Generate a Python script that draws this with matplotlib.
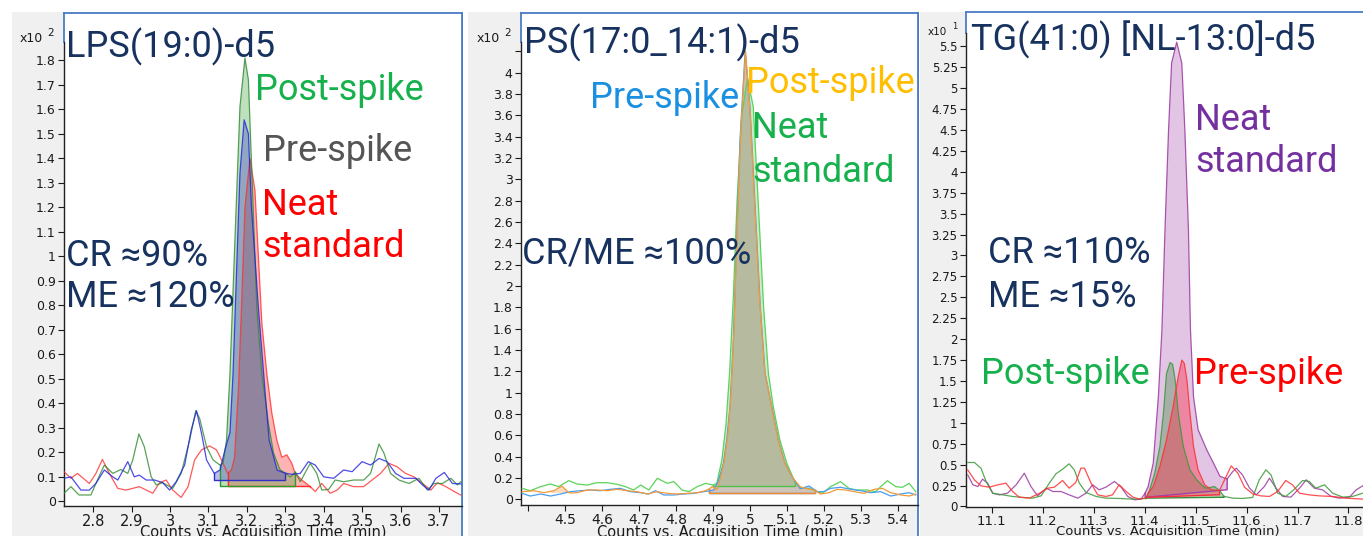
import numpy as np
import matplotlib.pyplot as plt
from matplotlib.patches import Rectangle, Polygon
from matplotlib.lines import Line2D

# ---- LPS(19:0)-d5 (values x10^2 counts) ----
lps_post_t = [2.724, 2.742, 2.763, 2.794, 2.811, 2.829, 2.851, 2.872, 2.89, 2.903, 2.919, 2.933, 2.951,
              2.964, 2.981, 3.007, 3.029, 3.051, 3.067, 3.077, 3.095, 3.112, 3.130, 3.138, 3.147, 3.156,
              3.169, 3.182, 3.195, 3.204, 3.213, 3.226, 3.239, 3.256, 3.269, 3.286, 3.313, 3.326, 3.339,
              3.365, 3.382, 3.395, 3.413, 3.43, 3.452, 3.478, 3.504, 3.522, 3.544, 3.557, 3.574, 3.596,
              3.622, 3.648, 3.67, 3.687, 3.709, 3.731, 3.748, 3.757]
lps_post_y = [0.033, 0.06, 0.026, 0.026, 0.087, 0.148, 0.114, 0.13, 0.114, 0.169, 0.275, 0.223, 0.10,
              0.067, 0.076, 0.053, 0.114, 0.25, 0.37, 0.339, 0.223, 0.169, 0.148, 0.156, 0.25, 0.52,
              1.07, 1.61, 1.81, 1.72, 1.34, 0.79, 0.52, 0.32, 0.20, 0.13, 0.10, 0.12, 0.08,
              0.155, 0.114, 0.046, 0.049, 0.087, 0.08, 0.087, 0.087, 0.114, 0.234, 0.196, 0.114, 0.087,
              0.073, 0.094, 0.046, 0.073, 0.073, 0.094, 0.067, 0.08]

lps_pre_t = [2.724, 2.742, 2.768, 2.79, 2.807, 2.829, 2.851, 2.864, 2.89, 2.907, 2.92, 2.938, 2.96,
             2.981, 2.999, 3.016, 3.038, 3.055, 3.069, 3.082, 3.095, 3.115, 3.13, 3.143, 3.156, 3.164,
             3.173, 3.182, 3.193, 3.204, 3.212, 3.23, 3.247, 3.258, 3.279, 3.300, 3.318, 3.339, 3.36,
             3.378, 3.40, 3.426, 3.452, 3.474, 3.50, 3.522, 3.544, 3.565, 3.587, 3.609, 3.64, 3.657,
             3.674, 3.692, 3.714, 3.735, 3.757]
lps_pre_y = [0.094, 0.10, 0.046, 0.046, 0.073, 0.128, 0.10, 0.087, 0.162, 0.10, 0.107, 0.087, 0.087,
             0.076, 0.046, 0.08, 0.148, 0.29, 0.37, 0.277, 0.169, 0.114, 0.128, 0.21, 0.28, 0.52,
             0.93, 1.34, 1.557, 1.50, 1.20, 0.79, 0.455, 0.25, 0.127, 0.115, 0.11, 0.114, 0.162,
             0.148, 0.10, 0.094, 0.128, 0.121, 0.162, 0.148, 0.175, 0.162, 0.114, 0.094, 0.094, 0.067,
             0.046, 0.094, 0.118, 0.073, 0.071]

lps_neat_t = [2.724, 2.742, 2.759, 2.79, 2.807, 2.824, 2.842, 2.864, 2.885, 2.903, 2.92, 2.938, 2.955,
              2.973, 2.99, 3.007, 3.029, 3.047, 3.064, 3.082, 3.103, 3.121, 3.134, 3.15, 3.16, 3.168,
              3.178, 3.186, 3.195, 3.208, 3.221, 3.23, 3.239, 3.252, 3.265, 3.278, 3.291, 3.304, 3.317,
              3.326, 3.343, 3.365, 3.378, 3.395, 3.417, 3.435, 3.452, 3.478, 3.504, 3.526, 3.548, 3.57,
              3.591, 3.613, 3.635, 3.657, 3.679, 3.696, 3.718, 3.74, 3.756]
lps_neat_y = [0.121, 0.094, 0.114, 0.073, 0.114, 0.171, 0.114, 0.053, 0.046, 0.053, 0.06, 0.046, 0.033,
              0.076, 0.087, 0.046, 0.016, 0.06, 0.169, 0.21, 0.226, 0.21, 0.169, 0.114, 0.13, 0.18,
              0.455, 0.79, 1.2, 1.40, 1.27, 1.0, 0.727, 0.52, 0.36, 0.25, 0.18, 0.19, 0.155,
              0.114, 0.087, 0.06, 0.04, 0.073, 0.033, 0.046, 0.073, 0.06, 0.06, 0.087, 0.114, 0.155,
              0.141, 0.114, 0.10, 0.073, 0.046, 0.076, 0.06, 0.04, 0.026]

# ---- PS(17:0_14:1)-d5 (x10^2) ----
ps_pre_t = [4.383, 4.405, 4.433, 4.46, 4.487, 4.514, 4.541, 4.568, 4.595, 4.622, 4.649, 4.676, 4.704,
            4.726, 4.744, 4.767, 4.794, 4.821, 4.848, 4.875, 4.89, 4.902, 4.915, 4.928, 4.937, 4.946,
            4.955, 4.964, 4.973, 4.987, 5.0, 5.014, 5.028, 5.041, 5.059, 5.077, 5.095, 5.114, 5.136,
            5.16, 5.175, 5.182, 5.2, 5.218, 5.245, 5.273, 5.3, 5.327, 5.354, 5.381, 5.408, 5.431, 5.449]
ps_pre_y = [0.056, 0.031, 0.05, 0.031, 0.05, 0.072, 0.081, 0.0875, 0.081, 0.094, 0.103, 0.072, 0.0625,
            0.05, 0.081, 0.041, 0.041, 0.05, 0.056, 0.072, 0.08, 0.0875, 0.18, 0.337, 0.556, 0.87,
            1.49, 2.43, 3.37, 4.2, 3.68, 2.74, 1.8, 1.18, 0.87, 0.556, 0.337, 0.21, 0.10,
            0.125, 0.09, 0.072, 0.072, 0.103, 0.113, 0.094, 0.081, 0.0625, 0.072, 0.031, 0.05, 0.0625, 0.041]

ps_post_t = [4.383, 4.415, 4.442, 4.46, 4.469, 4.491, 4.509, 4.52, 4.532, 4.559, 4.586, 4.613, 4.64,
             4.667, 4.694, 4.722, 4.749, 4.776, 4.803, 4.83, 4.857, 4.88, 4.89, 4.898, 4.911, 4.92,
             4.93, 4.94, 4.948, 4.957, 4.965, 4.975, 4.988, 5.0, 5.013, 5.027, 5.04, 5.058, 5.076,
             5.094, 5.114, 5.136, 5.15, 5.175, 5.191, 5.214, 5.236, 5.259, 5.282, 5.309, 5.336, 5.359,
             5.381, 5.408, 5.431, 5.449]
ps_post_y = [0.072, 0.081, 0.0625, 0.075, 0.081, 0.125, 0.0625, 0.06, 0.0625, 0.0875, 0.0875, 0.081, 0.094,
             0.081, 0.072, 0.05, 0.072, 0.056, 0.05, 0.056, 0.0625, 0.081, 0.10, 0.119, 0.094, 0.2,
             0.35, 0.6, 0.95, 1.6, 2.5, 3.45, 4.2, 3.65, 2.75, 1.82, 1.2, 0.88, 0.56,
             0.34, 0.21, 0.118, 0.103, 0.0875, 0.05, 0.0625, 0.094, 0.0875, 0.072, 0.056, 0.094, 0.103,
             0.0625, 0.041, 0.031, 0.05]

ps_neat_t = [4.383, 4.405, 4.433, 4.46, 4.482, 4.509, 4.532, 4.559, 4.586, 4.613, 4.64, 4.663, 4.685,
             4.704, 4.726, 4.749, 4.776, 4.794, 4.816, 4.835, 4.857, 4.88, 4.90, 4.91, 4.924, 4.935,
             4.945, 4.955, 4.965, 4.978, 4.993, 5.009, 5.023, 5.037, 5.05, 5.063, 5.081, 5.10, 5.122,
             5.137, 5.16, 5.182, 5.196, 5.218, 5.245, 5.268, 5.29, 5.318, 5.34, 5.354, 5.372, 5.395,
             5.413, 5.431, 5.449]
ps_neat_y = [0.103, 0.081, 0.119, 0.144, 0.119, 0.175, 0.144, 0.134, 0.156, 0.156, 0.141, 0.119, 0.0875,
             0.134, 0.0875, 0.197, 0.15, 0.166, 0.0875, 0.072, 0.119, 0.15, 0.134, 0.15, 0.37, 0.7,
             1.2, 1.9, 2.8, 3.6, 3.95, 3.68, 2.74, 1.8, 1.18, 0.87, 0.556, 0.337, 0.16,
             0.103, 0.103, 0.072, 0.056, 0.119, 0.166, 0.103, 0.0875, 0.0875, 0.072, 0.119, 0.175, 0.119,
             0.113, 0.15, 0.072]

# ---- TG(41:0) [NL-13:0]-d5 (x10^1) ----
tg_neat_t = [11.053, 11.063, 11.073, 11.082, 11.092, 11.102, 11.115, 11.131, 11.148, 11.164, 11.177,
             11.19, 11.207, 11.22, 11.236, 11.252, 11.269, 11.285, 11.298, 11.311, 11.324, 11.341,
             11.354, 11.367, 11.38, 11.393, 11.401, 11.407, 11.417, 11.427, 11.434, 11.44, 11.447,
             11.453, 11.463, 11.473, 11.479, 11.486, 11.49, 11.496, 11.505, 11.522, 11.535, 11.548,
             11.562, 11.573, 11.58, 11.592, 11.606, 11.619, 11.635, 11.645, 11.658, 11.671, 11.687,
             11.704, 11.717, 11.733, 11.749, 11.766, 11.782, 11.802, 11.815, 11.828]
tg_neat_y = [0.378, 0.259, 0.239, 0.327, 0.279, 0.159, 0.139, 0.159, 0.259, 0.398, 0.239,
             0.127, 0.219, 0.179, 0.179, 0.139, 0.10, 0.159, 0.259, 0.199, 0.231, 0.299,
             0.231, 0.12, 0.08, 0.088, 0.16, 0.24, 0.52, 1.31, 2.11, 3.31, 4.5,
             5.30, 5.55, 5.30, 4.5, 3.31, 2.11, 1.31, 0.917, 0.677, 0.52, 0.36,
             0.33, 0.418, 0.458, 0.378, 0.219, 0.139, 0.239, 0.339, 0.219, 0.12, 0.112,
             0.219, 0.319, 0.219, 0.199, 0.12, 0.10, 0.112, 0.199, 0.247]

tg_post_t = [11.053, 11.066, 11.079, 11.089, 11.102, 11.122, 11.141, 11.161, 11.18, 11.197, 11.213,
             11.226, 11.239, 11.252, 11.262, 11.272, 11.285, 11.305, 11.324, 11.35, 11.377, 11.403,
             11.41, 11.42, 11.43, 11.437, 11.443, 11.45, 11.455, 11.46, 11.466, 11.476, 11.489,
             11.502, 11.515, 11.521, 11.537, 11.547, 11.556, 11.573, 11.592, 11.612, 11.625, 11.638,
             11.648, 11.661, 11.677, 11.694, 11.71, 11.723, 11.736, 11.753, 11.769, 11.789, 11.808, 11.828]
tg_post_y = [0.526, 0.526, 0.458, 0.299, 0.159, 0.139, 0.12, 0.108, 0.10, 0.127, 0.279,
             0.39, 0.446, 0.51, 0.438, 0.279, 0.167, 0.12, 0.10, 0.096, 0.088, 0.096,
             0.2, 0.40, 0.717, 1.116, 1.59, 1.72, 1.70, 1.51, 1.116, 0.717, 0.438,
             0.32, 0.24, 0.219, 0.239, 0.191, 0.12, 0.10, 0.096, 0.108, 0.319, 0.438,
             0.378, 0.159, 0.12, 0.207, 0.311, 0.299, 0.219, 0.259, 0.159, 0.112, 0.12, 0.159]

tg_pre_t = [11.053, 11.066, 11.079, 11.095, 11.112, 11.128, 11.141, 11.154, 11.174, 11.194, 11.21,
            11.223, 11.239, 11.252, 11.265, 11.275, 11.282, 11.295, 11.308, 11.324, 11.337, 11.35,
            11.364, 11.377, 11.39, 11.403, 11.407, 11.417, 11.43, 11.443, 11.456, 11.466, 11.473,
            11.478, 11.483, 11.489, 11.496, 11.505, 11.518, 11.531, 11.547, 11.56, 11.57, 11.583,
            11.596, 11.612, 11.628, 11.645, 11.661, 11.677, 11.69, 11.704, 11.723, 11.743, 11.769,
            11.795, 11.828]
tg_pre_y = [0.438, 0.319, 0.247, 0.231, 0.259, 0.279, 0.179, 0.112, 0.10, 0.159, 0.219,
            0.231, 0.311, 0.219, 0.287, 0.458, 0.458, 0.279, 0.139, 0.12, 0.139, 0.259,
            0.179, 0.112, 0.088, 0.104, 0.16, 0.239, 0.478, 0.797, 1.195, 1.553, 1.75,
            1.71, 1.514, 1.116, 0.717, 0.438, 0.259, 0.2, 0.191, 0.359, 0.486, 0.398,
            0.231, 0.151, 0.127, 0.12, 0.179, 0.311, 0.259, 0.159, 0.139, 0.127, 0.12,
            0.10, 0.088]

# integration windows: (t_start, t_end, baseline_start, baseline_end)
lps_post_int = (3.130, 3.326, 0.062, 0.062)
lps_pre_int = (3.115, 3.300, 0.087, 0.087)
lps_neat_int = (3.150, 3.365, 0.062, 0.062)
ps_neat_int = (4.900, 5.122, 0.125, 0.125)
ps_pre_int = (4.890, 5.175, 0.056, 0.056)
ps_post_int = (4.890, 5.175, 0.056, 0.056)
ps_post_int2 = (4.460, 4.520, 0.06, 0.06)
tg_neat_int = (11.401, 11.562, 0.11, 0.20)
tg_post_int = (11.403, 11.556, 0.10, 0.11)
tg_pre_int = (11.403, 11.547, 0.11, 0.14)

lps_yticks = [0, 0.1, 0.2, 0.3, 0.4, 0.5, 0.6, 0.7, 0.8, 0.9, 1, 1.1, 1.2, 1.3, 1.4, 1.5, 1.6, 1.7, 1.8]
lps_xticks = [2.8, 2.9, 3.0, 3.1, 3.2, 3.3, 3.4, 3.5, 3.6, 3.7]
ps_yticks = [0, 0.2, 0.4, 0.6, 0.8, 1, 1.2, 1.4, 1.6, 1.8, 2, 2.2, 2.4, 2.6, 2.8, 3, 3.2, 3.4, 3.6, 3.8, 4, 4.2]
ps_ylabels = ['%g' % v for v in ps_yticks[:-1]] + ['']
ps_xticks = [4.4, 4.5, 4.6, 4.7, 4.8, 4.9, 5.0, 5.1, 5.2, 5.3, 5.4]
ps_xlabels = [''] + ['%g' % v for v in ps_xticks[1:]]
tg_yticks = [0, 0.25, 0.5, 0.75, 1, 1.25, 1.5, 1.75, 2, 2.25, 2.5, 2.75, 3, 3.25, 3.5, 3.75, 4,
             4.25, 4.5, 4.75, 5, 5.25, 5.5]
tg_xticks = [11.1, 11.2, 11.3, 11.4, 11.5, 11.6, 11.7, 11.8]

W, H = 1363, 536
NAVY = '#17325f'
FRAME = '#4a7cc4'
BIG = ['Roboto', 'DejaVu Sans']

fig = plt.figure(figsize=(W / 100, H / 100), dpi=100)
fig.patch.set_facecolor('white')


def fx(x):
    return x / W


def fy(y):
    return 1 - y / H


def make_axes(left, right, top, bottom, xlim, ylim, xticks, yticks, xsize, ysize, axis_top,
              xlabels=None, ylabels=None, right_spine=True):
    ax = fig.add_axes([fx(left), fy(bottom), (right - left) / W, (bottom - top) / H])
    ax.set_xlim(*xlim)
    ax.set_ylim(*ylim)
    ax.set_xticks(xticks)
    ax.set_xticklabels(xlabels if xlabels else ['%g' % v for v in xticks])
    ax.set_yticks(yticks)
    ax.set_yticklabels(ylabels if ylabels else ['%g' % v for v in yticks])
    ax.tick_params(axis='x', direction='out', length=4, width=0.8, labelsize=xsize, pad=2,
                   colors='#1a1a1a')
    ax.tick_params(axis='y', direction='out', length=4, width=0.8, labelsize=ysize, pad=2,
                   colors='#1a1a1a')
    for s in ['left', 'bottom']:
        ax.spines[s].set_color('#222222')
        ax.spines[s].set_linewidth(1.0)
    for s in ['top', 'right']:
        ax.spines[s].set_color(FRAME)
        ax.spines[s].set_linewidth(1.3)
    ax.spines['right'].set_visible(right_spine)
    # dark y axis only up to its top tick, blue frame above it
    ax.spines['left'].set_bounds(ylim[0], axis_top)
    frac = (axis_top - ylim[0]) / (ylim[1] - ylim[0])
    ax.plot([0, 0], [frac, 1], transform=ax.transAxes, color=FRAME, lw=1.3, clip_on=False)
    return ax


def trace(ax, t, y, color, lw=0.9, alpha=1.0):
    ax.plot(t, y, color=color, lw=lw, alpha=alpha, zorder=5)


def peak(ax, t, y, win, color, fill_alpha, edge=True):
    t = np.asarray(t)
    y = np.asarray(y)
    t0, t1, b0, b1 = win
    m = (t >= t0 - 1e-9) & (t <= t1 + 1e-9)
    tm, ym = t[m], y[m]
    verts = [(tm[0], b0)] + list(zip(tm, ym)) + [(tm[-1], b1)]
    ax.add_patch(Polygon(verts, closed=True, facecolor=color, alpha=fill_alpha,
                         edgecolor='none', zorder=2))
    if edge:
        ax.plot([tm[0], tm[0], tm[-1], tm[-1]], [ym[0], b0, b1, ym[-1]],
                color=color, lw=1.0, zorder=4)


# grey panel backgrounds and frame lines
for gx0, gx1 in [(12, 463), (468, 918), (920, 1363)]:
    fig.add_artist(Rectangle((fx(gx0), 0), (gx1 - gx0) / W, fy(12), transform=fig.transFigure,
                             facecolor='#f0f0f0', edgecolor='none', zorder=-5))
for vx in [462, 918]:
    fig.add_artist(Line2D([fx(vx), fx(vx)], [0, fy(13)], transform=fig.transFigure,
                          color=FRAME, lw=1.3, zorder=-4))

# ---- panel 1 ----
ax1 = make_axes(64, 462, 13, 506, (2.724, 3.760), (-0.019, 1.993), lps_xticks, lps_yticks, 10.5, 9,
                1.875)
peak(ax1, lps_neat_t, lps_neat_y, lps_neat_int, '#ff2a2a', 0.35)
peak(ax1, lps_post_t, lps_post_y, lps_post_int, '#2e9a2e', 0.3)
peak(ax1, lps_pre_t, lps_pre_y, lps_pre_int, '#3030c8', 0.32)
trace(ax1, lps_neat_t, lps_neat_y, '#ff3030', alpha=0.8)
trace(ax1, lps_post_t, lps_post_y, '#2f8a2f', alpha=0.8)
trace(ax1, lps_pre_t, lps_pre_y, '#2020e0', alpha=0.8)

# ---- panel 2 ----
ax2 = make_axes(521, 918, 13, 505, (4.38, 5.455), (-0.053, 4.558), ps_xticks, ps_yticks, 10, 9,
                4.29, xlabels=ps_xlabels, ylabels=ps_ylabels)
peak(ax2, ps_neat_t, ps_neat_y, ps_neat_int, '#4cc24c', 0.3)
peak(ax2, ps_pre_t, ps_pre_y, ps_pre_int, '#3a8ee8', 0.3)
peak(ax2, ps_post_t, ps_post_y, ps_post_int, '#f08a2a', 0.3)
peak(ax2, ps_post_t, ps_post_y, ps_post_int2, '#f08a2a', 0.3, edge=False)
trace(ax2, ps_neat_t, ps_neat_y, '#5ad35a')
trace(ax2, ps_pre_t, ps_pre_y, '#4a9df0')
trace(ax2, ps_post_t, ps_post_y, '#f29a3a')

# ---- panel 3 ----
ax3 = make_axes(966, 1363, 12, 507, (11.0496, 11.8285), (-0.006, 5.91), tg_xticks, tg_yticks, 9.5, 8.5,
                5.66, right_spine=False)
peak(ax3, tg_neat_t, tg_neat_y, tg_neat_int, '#a040a8', 0.3)
peak(ax3, tg_post_t, tg_post_y, tg_post_int, '#3a8a3a', 0.35)
peak(ax3, tg_pre_t, tg_pre_y, tg_pre_int, '#ff2840', 0.4)
trace(ax3, tg_neat_t, tg_neat_y, '#9b3aa0', alpha=0.85)
trace(ax3, tg_post_t, tg_post_y, '#3a9a3a', alpha=0.85)
trace(ax3, tg_pre_t, tg_pre_y, '#ff3030', alpha=0.85)

# axis titles (clipped at the bottom edge, as in the screenshot)
for cx, size in [(263, 10.5), (720, 10.5), (1168, 9.5)]:
    fig.text(fx(cx), fy(525), 'Counts vs. Acquisition Time (min)', ha='center', va='top',
             fontsize=size, color='#1a1a1a')

# exponent markers
for x0, yb, exp, size, dx in [(20, 42, '2', 9, 27), (477, 42, '2', 9, 27), (928, 35, '1', 7.5, 24)]:
    fig.text(fx(x0), fy(yb), 'x10', fontsize=size, color='#1a1a1a', va='baseline')
    fig.text(fx(x0 + dx), fy(yb - 6), exp, fontsize=size - 1.5, color='#1a1a1a', va='baseline')


def big(x, y, s, color):
    fig.text(fx(x), fy(y), s, fontsize=26, color=color, family=BIG, va='baseline', ha='left')


# panel 1 annotations
big(66, 57, 'LPS(19:0)-d5', NAVY)
big(255, 100, 'Post-spike', '#16b14c')
big(263, 161, 'Pre-spike', '#555555')
big(262, 215, 'Neat', '#ff0000')
big(262, 257, 'standard', '#ff0000')
big(66, 266, 'CR ≈90%', NAVY)
big(66, 307, 'ME ≈120%', NAVY)

# panel 2 annotations
big(524, 53, 'PS(17:0_14:1)-d5', NAVY)
big(590, 108, 'Pre-spike', '#1b8fe0')
big(746, 93, 'Post-spike', '#ffbf00')
big(752, 138, 'Neat', '#16b14c')
big(752, 182, 'standard', '#16b14c')
big(522, 263, 'CR/ME ≈100%', NAVY)

# panel 3 annotations
big(971, 50, 'TG(41:0) [NL-13:0]-d5', NAVY)
big(1195, 130, 'Neat', '#7530a0')
big(1195, 172, 'standard', '#7530a0')
big(988, 263, 'CR ≈110%', NAVY)
big(988, 307, 'ME ≈15%', NAVY)
big(981, 384, 'Post-spike', '#16b14c')
big(1194, 384, 'Pre-spike', '#ff0000')

fig.savefig('out.png', dpi=100)
